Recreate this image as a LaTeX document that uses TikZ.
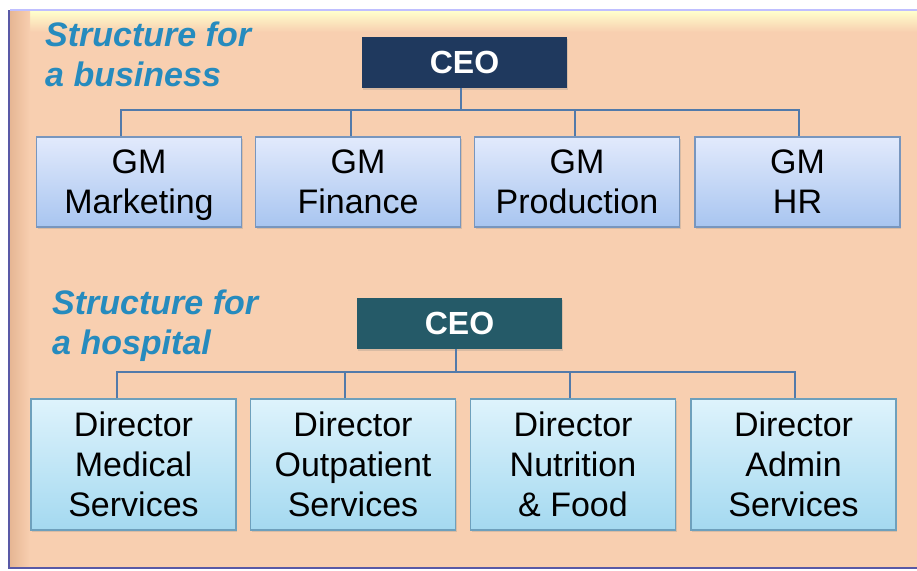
\documentclass[tikz,border=0pt]{standalone}
\usepackage{fontspec}
\setmainfont{Liberation Sans}
\usetikzlibrary{shadows}
\definecolor{peach}{RGB}{248,207,176}
\definecolor{peachdark}{RGB}{230,182,148}
\definecolor{titleblue}{RGB}{38,139,190}
\definecolor{ceonavy}{RGB}{31,57,94}
\definecolor{ceoteal}{RGB}{37,90,104}
\definecolor{gmtop}{RGB}{226,234,252}
\definecolor{gmbot}{RGB}{168,197,240}
\definecolor{gmline}{RGB}{120,150,190}
\definecolor{dirtop}{RGB}{222,243,252}
\definecolor{dirbot}{RGB}{164,217,240}
\definecolor{dirline}{RGB}{110,160,188}
\definecolor{wire}{RGB}{82,122,170}

\begin{document}
\begin{tikzpicture}[x=1pt,y=-1pt,
    heading/.style={anchor=base west,align=left,inner sep=0pt,text=titleblue,
      font=\fontsize{34}{40}\selectfont\bfseries\itshape},
    ceobox/.style={minimum width=205pt,minimum height=51pt,inner sep=0pt,text=white,
      font=\fontsize{32}{36}\selectfont\bfseries,
      drop shadow={opacity=0.25,shadow xshift=1pt,shadow yshift=-2pt}},
    gmbox/.style={draw=gmline,line width=1.2pt,top color=gmtop,bottom color=gmbot,
      minimum width=205pt,minimum height=90pt,inner sep=0pt,align=center,
      text depth=0pt,font=\fontsize{34}{40}\selectfont,
      drop shadow={opacity=0.25,shadow xshift=1pt,shadow yshift=-2pt}},
    dirbox/.style={gmbox,draw=dirline,top color=dirtop,bottom color=dirbot,minimum height=131pt},
    wire/.style={draw=wire,line width=2.6pt}]
    \useasboundingbox (0,0) rectangle (917,570);
    % backdrop
    \fill[peach] (10,10) rectangle (917,568);
    \shade[top color=white!80!yellow,bottom color=peach] (10,11) rectangle (917,32);
    \shade[left color=peachdark,right color=peach] (10,10) rectangle (30,568);
    \draw[line width=2pt,color=blue!25!white] (10,10) -- (917,10);
    \draw[line width=2.5pt,color=gray!70!blue] (9,10) -- (9,568) -- (917,568);

    % business
    \node[heading] at (45,86) (hbus) {Structure for\\a business};
    \node[ceobox,fill=ceonavy] at (464.5,62) (ceoA) {CEO};
    \node[gmbox] at (139,182) (gmMkt) {GM\\Marketing};
    \node[gmbox] at (358,182) (gmFin) {GM\\Finance};
    \node[gmbox] at (577,182) (gmProd) {GM\\Production};
    \node[gmbox] at (797.5,182) (gmHR) {GM\\HR};
    \coordinate (busA) at (461,110);
    \draw[wire] ([xshift=-3.5pt]ceoA.south) -- (busA);
    \draw[wire] (busA) -| ([xshift=-18pt]gmMkt.north);
    \draw[wire] (busA) -| ([xshift=-7pt]gmFin.north);
    \draw[wire] (busA) -| ([xshift=-2pt]gmProd.north);
    \draw[wire] (busA) -| ([xshift=1.5pt]gmHR.north);

    % hospital
    \node[heading] at (52,354) (hhosp) {Structure for\\a hospital};
    \node[ceobox,fill=ceoteal] at (459.5,323.5) (ceoB) {CEO};
    \node[dirbox] at (133.5,464.5) (dirMed) {Director\\Medical\\Services};
    \node[dirbox] at (353,464.5) (dirOut) {Director\\Outpatient\\Services};
    \node[dirbox] at (573,464.5) (dirNut) {Director\\Nutrition\\\& Food};
    \node[dirbox] at (793.5,464.5) (dirAdm) {Director\\Admin\\Services};
    \coordinate (busB) at (456,372);
    \draw[wire] ([xshift=-3.5pt]ceoB.south) -- (busB);
    \draw[wire] (busB) -| ([xshift=-16.5pt]dirMed.north);
    \draw[wire] (busB) -| ([xshift=-8pt]dirOut.north);
    \draw[wire] (busB) -| ([xshift=-3pt]dirNut.north);
    \draw[wire] (busB) -| ([xshift=1.5pt]dirAdm.north);
\end{tikzpicture}
\end{document}
